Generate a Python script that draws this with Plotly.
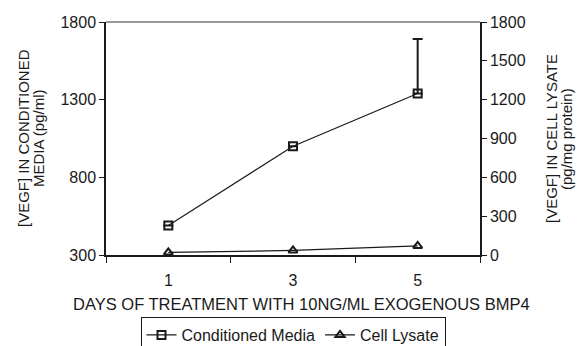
import plotly.graph_objects as go

days = ["1", "3", "5"]
conditioned_media = [490, 1000, 1340]
conditioned_err_plus = [0, 0, 350]
cell_lysate = [20, 35, 70]
left_ticks = [300, 800, 1300, 1800]
right_ticks = [0, 300, 600, 900, 1200, 1500, 1800]

FONT = "Liberation Sans, Arial, sans-serif"
INK = "#1a1a1a"
FS = 16

fig = go.Figure()
fig.add_trace(go.Scatter(
    x=days, y=conditioned_media, name="Conditioned Media",
    mode="lines+markers",
    line=dict(color=INK, width=1.2),
    marker=dict(symbol="square-open", size=8, color=INK, line=dict(width=2)),
    error_y=dict(type="data", symmetric=False, array=conditioned_err_plus,
                 arrayminus=[0, 0, 0], color=INK, thickness=2, width=5),
))
fig.add_trace(go.Scatter(
    x=days, y=cell_lysate, name="Cell Lysate", yaxis="y2",
    mode="lines+markers",
    line=dict(color=INK, width=1.2),
    marker=dict(symbol="triangle-up-open", size=8, color=INK, line=dict(width=2)),
))

H = 346 - 22 - 91  # plot height in px

fig.update_layout(
    width=578, height=346,
    margin=dict(l=106, r=98, t=22, b=91, autoexpand=False),
    paper_bgcolor="white", plot_bgcolor="white",
    font=dict(family=FONT, size=FS, color=INK),
    showlegend=True,
    legend=dict(orientation="h", x=0.5, xanchor="center",
                y=-(317 - 255) / H, yanchor="top",
                bordercolor=INK, borderwidth=1, font=dict(size=FS),
                itemwidth=30, tracegroupgap=0),
    xaxis=dict(type="category", range=[-0.5, 2.5], tickson="boundaries",
               ticks="outside", ticklen=6, tickcolor=INK, showline=True,
               linecolor=INK, linewidth=1.5, showgrid=False, zeroline=False,
               tickfont=dict(size=FS), ticklabelstandoff=10, automargin=False),
    yaxis=dict(range=[300, 1800], tickvals=left_ticks, ticks="outside", ticklen=5,
               tickcolor=INK, showline=True, linecolor=INK, linewidth=1.5,
               showgrid=False, zeroline=False, tickfont=dict(size=FS),
               automargin=False),
    yaxis2=dict(range=[0, 1800], tickvals=right_ticks, overlaying="y", side="right",
                ticks="outside", ticklen=5, tickcolor=INK, showline=True,
                linecolor=INK, linewidth=1.5, showgrid=False, zeroline=False,
                tickfont=dict(size=FS), automargin=False),
    shapes=[dict(type="line", xref="paper", yref="paper", x0=0, x1=1, y0=1, y1=1,
                 line=dict(color="#999", width=2))],
)

def ann(text, px, py, angle=0, size=FS):
    return dict(text=text, xref="paper", yref="paper",
                x=(px - 106) / (578 - 106 - 98), y=(346 - 91 - py) / H,
                xanchor="center", yanchor="middle", showarrow=False,
                textangle=angle, font=dict(size=size, color=INK, family=FONT))

fig.update_layout(annotations=[
    ann("[VEGF] IN CONDITIONED", 23, 138, -90, 15),
    ann("MEDIA (pg/ml)", 38, 138, -90, 15),
    ann("[VEGF] IN CELL LYSATE", 551, 139, -90, 15),
    ann("(pg/mg protein)", 566, 139, -90, 15),
    ann("DAYS OF TREATMENT WITH 10NG/ML EXOGENOUS BMP4", 301, 304, 0, 16.5),
])

fig.write_html("out.html", config={"displayModeBar": False},
               post_script="document.body.style.margin='0';document.body.style.overflow='hidden';")
